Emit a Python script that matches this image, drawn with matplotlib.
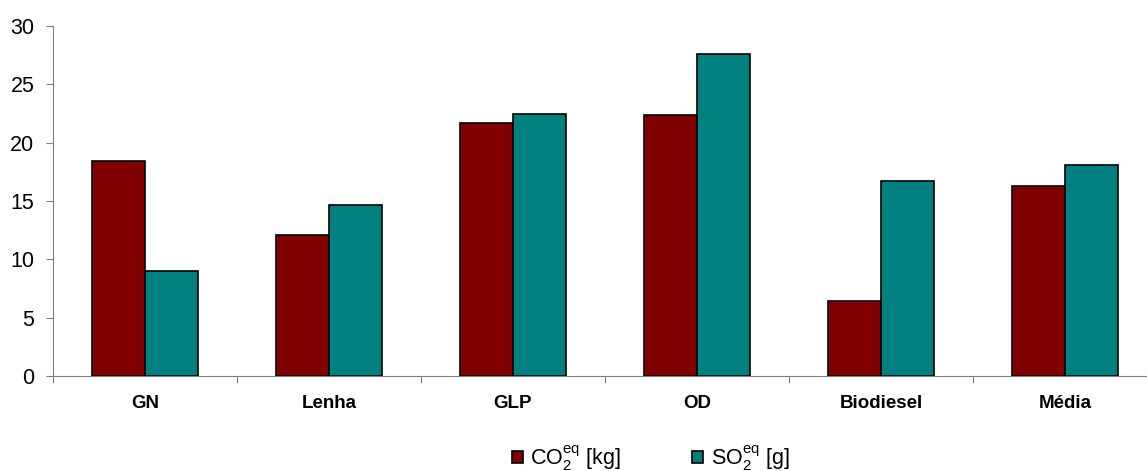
import numpy as np
import matplotlib
matplotlib.use("Agg")
import matplotlib.pyplot as plt

plt.rcParams['font.family'] = ['Liberation Sans', 'DejaVu Sans']

categories = ["GN", "Lenha", "GLP", "OD", "Biodiesel", "Média"]
co2_kg = [18.4, 12.1, 21.7, 22.4, 6.4, 16.3]
so2_g = [9.0, 14.7, 22.5, 27.6, 16.7, 18.1]
series_labels = [r"$\mathregular{CO_2^{eq}}$ [kg]", r"$\mathregular{SO_2^{eq}}$ [g]"]

fig = plt.figure(figsize=(11.47, 4.71), dpi=100)
# plot area runs a little past the right edge, as in the original
ax = fig.add_axes([53 / 1147, 1 - 376 / 471, 1104 / 1147, 350 / 471])

x = np.arange(len(categories))
w = 1 / 3.5
ax.bar(x - w / 2, co2_kg, w, color="#800000", edgecolor="black", linewidth=1.2, label=series_labels[0])
ax.bar(x + w / 2, so2_g, w, color="#008080", edgecolor="black", linewidth=1.2, label=series_labels[1])

ax.set_xlim(-0.5, len(categories) - 0.5)
ax.set_ylim(0, 30)
ax.set_yticks(range(0, 31, 5))
ax.tick_params(axis="y", labelsize=15.5, direction="out", length=5, color="#808080", pad=8.5)

ax.set_xticks(np.arange(len(categories) + 1) - 0.5)
ax.set_xticklabels([])
ax.set_xticks(x, minor=True)
ax.set_xticklabels(categories, minor=True, fontsize=13.5, fontweight="bold")
ax.tick_params(axis="x", which="major", direction="out", length=5, color="#808080")
ax.tick_params(axis="x", which="minor", length=0, pad=14)

for s in ["top", "right"]:
    ax.spines[s].set_visible(False)
ax.spines["left"].set_color("#808080")
ax.spines["bottom"].set_color("#808080")

fig.legend(loc="center", bbox_to_anchor=(651 / 1147, 1 - 458 / 471), ncol=2, frameon=False,
           fontsize=15.5, handlelength=0.5, handleheight=0.5, handletextpad=0.35,
           columnspacing=3.3, borderpad=0)

fig.savefig("out.png", dpi=100)
